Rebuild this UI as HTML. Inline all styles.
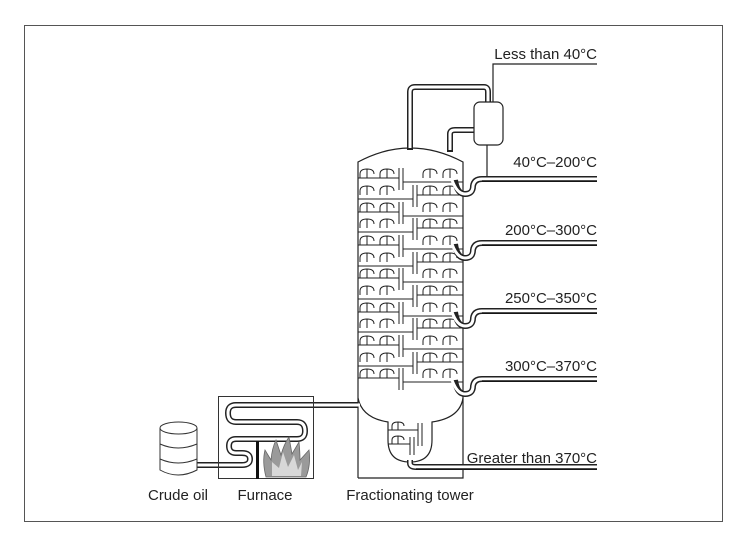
<!DOCTYPE html>
<html><head><meta charset="utf-8"><style>
html,body{margin:0;padding:0;background:#fff}
svg{display:block}
text{font-family:"Liberation Sans",sans-serif;font-size:15px;fill:#222}
</style></head><body>
<svg width="748" height="548" viewBox="0 0 748 548" xmlns="http://www.w3.org/2000/svg">
<defs>
<g id="capL" fill="none" stroke="#222" stroke-width="1">
<path d="M360,0 V-4 Q360,-9 367,-9 Q374,-9 374,-4 M367,-9 V0"/>
<path d="M380,0 V-4 Q380,-9 387,-9 Q394,-9 394,-4 M387,-9 V0"/>
<path d="M423,0 V-4 Q423,-9 430,-9 Q437,-9 437,-4 M430,-9 V0"/>
<path d="M443,0 V-4 Q443,-9 450,-9 Q457,-9 457,-4 M450,-9 V0"/>
</g>
<g id="rowA" fill="none" stroke="#222" stroke-width="1">
<use href="#capL"/>
<path d="M358,0 H399 M399,-10 V12 M403,-10 V12 M403,4 H463"/>
</g>
<g id="rowB" fill="none" stroke="#222" stroke-width="1">
<use href="#capL"/>
<path d="M358,4 H413 M413,-10 V12 M417,-10 V12 M417,0 H463"/>
</g>
</defs>
<rect x="24.5" y="25.5" width="698" height="496" fill="none" stroke="#555" stroke-width="1"/>

<g fill="none" stroke="#222" stroke-width="1.2">
<path d="M358,478 V162 Q410,134 463,162 V478 H358"/>
<path d="M358,398 Q362,418 388,422 V440 Q388,462 410,462 Q432,462 432,440 V422 Q460,418 463,398"/>
</g>
<g transform="translate(0,178)"><use href="#rowA"/></g>
<g transform="translate(0,195)"><use href="#rowB"/></g>
<g transform="translate(0,212)"><use href="#rowA"/></g>
<g transform="translate(0,228)"><use href="#rowB"/></g>
<g transform="translate(0,245)"><use href="#rowA"/></g>
<g transform="translate(0,262)"><use href="#rowB"/></g>
<g transform="translate(0,278)"><use href="#rowA"/></g>
<g transform="translate(0,295)"><use href="#rowB"/></g>
<g transform="translate(0,312)"><use href="#rowA"/></g>
<g transform="translate(0,328)"><use href="#rowB"/></g>
<g transform="translate(0,345)"><use href="#rowA"/></g>
<g transform="translate(0,362)"><use href="#rowB"/></g>
<g transform="translate(0,378)"><use href="#rowA"/></g>
<g fill="none" stroke="#222" stroke-width="1">
<path d="M388,430 H418 M418,423 V446 M422,423 V446 M392,430 V426 Q392,422 398,422 Q404,422 404,426 M398,422 V430"/>
<path d="M388,444 H410 M410,437 V455 M414,437 V455 M392,444 V440 Q392,436 398,436 Q404,436 404,440 M398,436 V444"/>
</g>

<g fill="none" stroke-linecap="butt">
<g stroke="#222" stroke-width="6">
<path d="M410,150 V92 Q410,87 415,87 H484 Q488,87 488,92 V103"/>
<path d="M450,152 V134 Q450,130 455,130 H474"/>
<path d="M455,180 Q457,194 465,194 Q473,194 473,186 Q474,179 482,179 H597"/>
<path d="M455,244 Q457,258 465,258 Q473,258 473,250 Q474,243 482,243 H597"/>
<path d="M455,312 Q457,326 465,326 Q473,326 473,318 Q474,311 482,311 H597"/>
<path d="M455,380 Q457,394 465,394 Q473,394 473,386 Q474,379 482,379 H597"/>
<path d="M410,460 V463 Q410,467 416,467 H597"/>
<path d="M197,465 H242 Q250,465 250,459 Q250,453 242,453 H236 Q229,453 229,446 Q229,439 236,439 H297 Q305,439 305,431 Q305,422 297,422 H236 Q228,422 228,413 Q228,405 236,405 H358"/>
</g>
<g stroke="#fff" stroke-width="3">
<path d="M410,148 V92 Q410,87 415,87 H484 Q488,87 488,92 V104"/>
<path d="M450,150 V134 Q450,130 455,130 H475"/>
<path d="M452,180 Q457,194 465,194 Q473,194 473,186 Q474,179 482,179 H598"/>
<path d="M452,244 Q457,258 465,258 Q473,258 473,250 Q474,243 482,243 H598"/>
<path d="M452,312 Q457,326 465,326 Q473,326 473,318 Q474,311 482,311 H598"/>
<path d="M452,380 Q457,394 465,394 Q473,394 473,386 Q474,379 482,379 H598"/>
<path d="M410,458 V463 Q410,467 416,467 H598"/>
<path d="M195,465 H242 Q250,465 250,459 Q250,453 242,453 H236 Q229,453 229,446 Q229,439 236,439 H297 Q305,439 305,431 Q305,422 297,422 H236 Q228,422 228,413 Q228,405 236,405 H360"/>
</g>
<path d="M482,181 H597 M482,245 H597 M482,313 H597 M482,381 H597 M416,469 H597" stroke="#111" stroke-width="1.5"/>
</g>
<rect x="474" y="102" width="29" height="43" rx="6" fill="#fff" stroke="#222" stroke-width="1.2"/>
<path d="M493,102 V64 H597 M487,145 V176" fill="none" stroke="#222" stroke-width="1.2"/>

<rect x="218.5" y="396.5" width="95" height="82" fill="none" stroke="#333" stroke-width="1"/>
<rect x="256" y="441" width="3" height="38" fill="#111"/>
<path d="M266,477 Q262,462 265,450 L271,460 Q272,448 276,440 L281,455 Q284,444 289,437 L292,454 L299,442 Q300,452 300,460 L309,450 Q311,465 306,477 Z" fill="#9a9a9a" stroke="#666" stroke-width="0.8"/>
<path d="M272,476 L272,462 L279,468 L283,452 L288,467 L294,455 L298,470 L302,462 L301,476 Z" fill="#d8d8d8"/>
<g fill="#fff" stroke="#333" stroke-width="1">
<path d="M160,428 V470 Q178,480 197,470 V428"/>
<ellipse cx="178.5" cy="428" rx="18.5" ry="6"/>
<path d="M160,444 Q178,452 197,444 M160,459 Q178,467 197,459" fill="none"/>
</g>

<g text-anchor="end">
<text x="597" y="59">Less than 40°C</text>
<text x="597" y="167">40°C–200°C</text>
<text x="597" y="235">200°C–300°C</text>
<text x="597" y="303">250°C–350°C</text>
<text x="597" y="371">300°C–370°C</text>
<text x="597" y="463">Greater than 370°C</text>
</g>
<g text-anchor="middle">
<text x="178" y="500">Crude oil</text>
<text x="265" y="500">Furnace</text>
<text x="410" y="500">Fractionating tower</text>
</g>
</svg>
</body></html>
